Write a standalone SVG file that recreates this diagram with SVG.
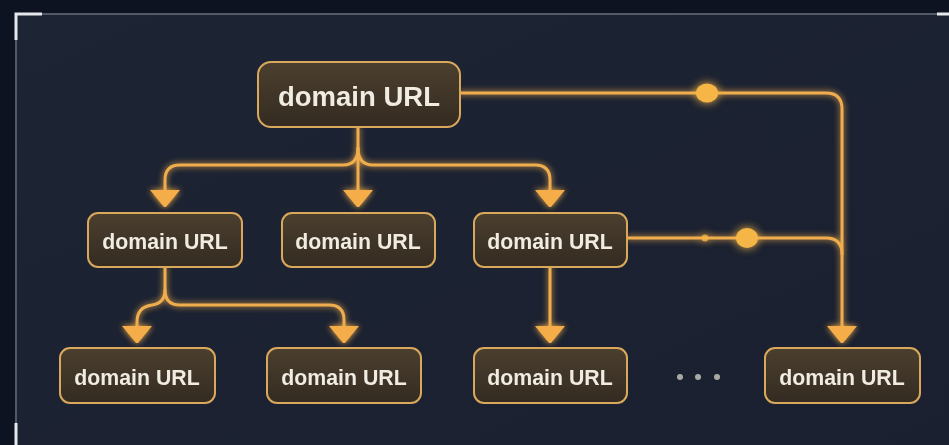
<svg xmlns="http://www.w3.org/2000/svg" width="949" height="445" viewBox="0 0 949 445">
<defs>
<style>
.node rect{fill:url(#ng);stroke:#d9a85c;stroke-width:2}
.node text{fill:#f1ece2;font-family:"Liberation Sans",Arial,sans-serif;font-weight:700;text-anchor:middle}
.t1{font-size:27.5px}
.t2{font-size:21.3px}
.wire{fill:none;stroke:#f0ad4e;stroke-width:3;stroke-linecap:round;stroke-linejoin:round}
.arr{fill:#f4ad48}
.dot{fill:#f6b646}
</style>
<linearGradient id="ng" x1="0" y1="0" x2="0" y2="1">
<stop offset="0" stop-color="#4b3f2e"/>
<stop offset="1" stop-color="#342b21"/>
</linearGradient>
<linearGradient id="bg" x1="0" y1="0" x2="1" y2="1">
<stop offset="0" stop-color="#1d2433"/>
<stop offset="1" stop-color="#1a2030"/>
</linearGradient>
<filter id="glow" x="-20%" y="-20%" width="140%" height="140%">
<feGaussianBlur in="SourceGraphic" stdDeviation="3" result="b"/>
<feMerge><feMergeNode in="b"/><feMergeNode in="SourceGraphic"/></feMerge>
</filter>
<filter id="glow2" x="-100%" y="-100%" width="300%" height="300%">
<feGaussianBlur in="SourceGraphic" stdDeviation="5" result="b"/>
<feMerge><feMergeNode in="b"/><feMergeNode in="SourceGraphic"/></feMerge>
</filter>
<path id="ah" d="M-15,0 L15,0 L1,17 L-1,17 Z"/>
</defs>

<rect x="0" y="0" width="949" height="445" fill="#0e1321"/>
<rect x="16" y="14" width="933" height="431" fill="url(#bg)"/>
<path d="M16,445 V14 H949" fill="none" stroke="#525a6a" stroke-width="2"/>
<path d="M16,40 V14 H42" fill="none" stroke="#e6e8ec" stroke-width="3"/>
<path d="M16,423 V445" fill="none" stroke="#e6e8ec" stroke-width="3"/>
<path d="M937,14 H949" fill="none" stroke="#e6e8ec" stroke-width="3"/>

<g id="connectors" filter="url(#glow)">
<path class="wire" d="M358,127 V192"/>
<path class="wire" d="M358,148 Q358,165 343,165 H180 Q165,165 165,180 V192"/>
<path class="wire" d="M358,148 Q358,165 373,165 H535 Q550,165 550,180 V192"/>
<path class="wire" d="M165,267 V290 Q165,303 152,305 Q137,307 137,322 V327"/>
<path class="wire" d="M165,290 Q165,305 180,305 H329 Q344,305 344,320 V327"/>
<path class="wire" d="M550,267 V327"/>
<path class="wire" d="M460,93 H826 Q842,93 842,109 V327"/>
<path class="wire" d="M627,238 H826 Q842,238 842,254"/>
<use href="#ah" class="arr" x="165" y="190"/>
<use href="#ah" class="arr" x="358" y="190"/>
<use href="#ah" class="arr" x="550" y="190"/>
<use href="#ah" class="arr" x="137" y="326"/>
<use href="#ah" class="arr" x="344" y="326"/>
<use href="#ah" class="arr" x="550" y="326"/>
<use href="#ah" class="arr" x="842" y="326"/>
</g>
<g id="dots" filter="url(#glow2)">
<ellipse class="dot" cx="707" cy="93" rx="11" ry="9.5"/>
<circle class="dot" cx="705" cy="238" r="3.5" opacity="0.8"/>
<ellipse class="dot" cx="747" cy="238" rx="11" ry="10"/>
</g>

<g id="n-root" class="node"><rect x="258" y="62" width="202" height="65" rx="13"/><text class="t1" x="359" y="106">domain URL</text></g>
<g id="n-a" class="node"><rect x="88" y="213" width="154" height="54" rx="10"/><text class="t2" x="165" y="249">domain URL</text></g>
<g id="n-b" class="node"><rect x="282" y="213" width="153" height="54" rx="10"/><text class="t2" x="358" y="249">domain URL</text></g>
<g id="n-c" class="node"><rect x="474" y="213" width="153" height="54" rx="10"/><text class="t2" x="550" y="249">domain URL</text></g>
<g id="n-a1" class="node"><rect x="60" y="348" width="155" height="55" rx="10"/><text class="t2" x="137" y="385">domain URL</text></g>
<g id="n-a2" class="node"><rect x="267" y="348" width="154" height="55" rx="10"/><text class="t2" x="344" y="385">domain URL</text></g>
<g id="n-c1" class="node"><rect x="474" y="348" width="153" height="55" rx="10"/><text class="t2" x="550" y="385">domain URL</text></g>
<g id="n-d" class="node"><rect x="765" y="348" width="155" height="55" rx="10"/><text class="t2" x="842" y="385">domain URL</text></g>

<g id="ellipsis" fill="#a9a9a6">
<circle cx="680" cy="377" r="3"/>
<circle cx="698" cy="377" r="3"/>
<circle cx="717" cy="377" r="3"/>
</g>
</svg>
